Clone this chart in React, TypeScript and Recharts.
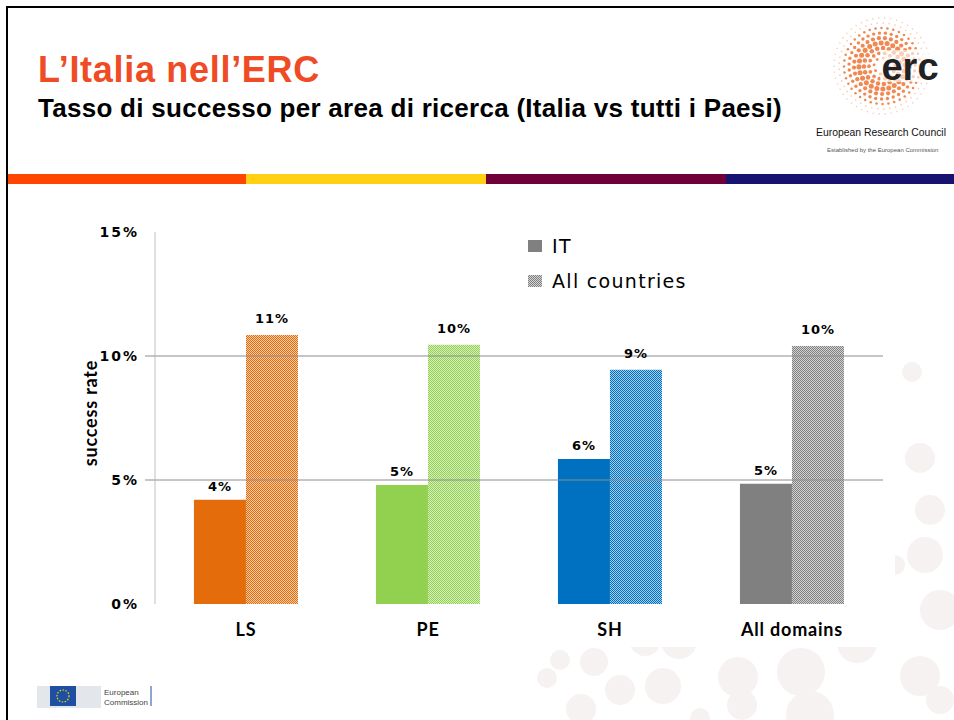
import { Bar, BarChart, Cell, LabelList, Legend, ReferenceLine, XAxis, YAxis } from 'recharts';

const categories = ['LS', 'PE', 'SH', 'All domains'];
const itRates = [4.2, 4.8, 5.85, 4.85];
const allRates = [10.85, 10.45, 9.45, 10.4];
const areaColors = ['#E46C0A', '#92D050', '#0070C0', '#808080'];
const yTicks = [0, 5, 10, 15];
const gridValues = [5, 10];
const separatorTicks = [1, 2, 3, 4];

const data = categories.map((name, i) => ({ name, it: itRates[i], all: allRates[i] }));

const bubbles = [
  [912, 372, 10], [920, 458, 15], [930, 510, 15], [895, 565, 10], [925, 555, 18], [940, 610, 20],
  [920, 676, 20], [940, 700, 14], [560, 660, 10], [594, 662, 14], [645, 640, 16], [679, 641, 18],
  [547, 678, 10], [620, 690, 15], [663, 686, 18], [738, 677, 20], [801, 672, 24], [857, 643, 20],
  [581, 709, 15], [742, 705, 15], [810, 715, 24], [700, 718, 10],
];

const pct = (v: number) => `${Math.round(v)}%`;

const YTick = ({ x, y, payload }: any) => (
  <g>
    {gridValues.includes(payload.value) && <line x1={x - 2} x2={x + 8} y1={y} y2={y} stroke="#8c8c8c" />}
    <text x={x - 8} y={y} dy={5} textAnchor="end" fontFamily="DejaVu Sans" fontWeight="bold" fontSize={14} letterSpacing={2} fill="#000">
      {pct(payload.value)}
    </text>
  </g>
);

const YLabel = ({ viewBox }: any) => {
  const cx = viewBox.x - 5;
  const cy = viewBox.y + viewBox.height / 2 - 5;
  return (
    <text x={cx} y={cy} transform={`rotate(-90 ${cx} ${cy})`} textAnchor="middle" dominantBaseline="central"
      fontFamily="Lato" fontWeight="bold" fontSize={18} letterSpacing={0.8} fill="#000">
      success rate
    </text>
  );
};

const LegendBox = () => (
  <div style={{ fontFamily: 'DejaVu Sans', fontSize: 19, letterSpacing: 1.3, color: '#000' }}>
    <div style={{ display: 'flex', alignItems: 'center', height: 22 }}>
      <svg width={16} height={14} style={{ marginRight: 8 }}><rect width={14} height={12} y={1} fill="#808080" /></svg>
      IT
    </div>
    <div style={{ display: 'flex', alignItems: 'center', height: 22, marginTop: 13 }}>
      <svg width={16} height={14} style={{ marginRight: 8 }}><rect width={14} height={12} y={1} fill="url(#hatch-3)" /></svg>
      All countries
    </div>
  </div>
);

const ErcLogo = () => {
  const dots: JSX.Element[] = [];
  for (let r = 8; r <= 48; r += 5) {
    const n = Math.round((2 * Math.PI * r) / 6);
    for (let k = 0; k < n; k++) {
      const a = (k / n) * 2 * Math.PI + r;
      const size = Math.max(0.8, 2.6 - Math.abs(r - 22) / 12);
      dots.push(
        <circle key={`${r}-${k}`} cx={882 + r * Math.cos(a)} cy={66 + r * Math.sin(a)} r={size}
          fill={r > 38 ? '#f6c3a4' : '#ee7b3e'} opacity={r > 38 ? 0.8 : 0.9} />
      );
    }
  }
  return (
    <g>
      {dots}
      <rect x={880} y={50} width={62} height={32} fill="#fff" opacity={0.6} />
      <text x={910} y={80} textAnchor="middle" fontFamily="Liberation Sans" fontWeight="bold" fontSize={38} fill="#222">erc</text>
      <text x={816} y={136} textLength={130} lengthAdjust="spacingAndGlyphs" fontFamily="Liberation Sans" fontSize={11} fill="#111">European Research Council</text>
      <text x={827} y={152} fontFamily="Liberation Sans" fontSize={6} fill="#555">Established by the European Commission</text>
    </g>
  );
};

export default function App() {
  return (
    <div style={{ position: 'fixed', left: 0, top: 0, width: 954, height: 720, background: '#fff', overflow: 'hidden' }}>
      <svg width={954} height={720} style={{ position: 'absolute', left: 0, top: 0 }}>
        {bubbles.map(([cx, cy, r], i) => <circle key={i} cx={cx} cy={cy} r={r} fill="#f6f2f1" />)}
        <rect x={9} y={186} width={886} height={461} fill="#fff" />
        <rect x={7} y={7} width={960} height={730} fill="none" stroke="#000" strokeWidth={2} />
        <rect x={8} y={174} width={238} height={10} fill="#FF4500" />
        <rect x={246} y={174} width={240} height={10} fill="#FFD014" />
        <rect x={486} y={174} width={240} height={10} fill="#720038" />
        <rect x={726} y={174} width={228} height={10} fill="#171370" />
        <ErcLogo />
        <g>
          <rect x={37} y={686} width={64} height={22} fill="#e3e6ea" />
          <rect x={50} y={686} width={26} height={20} fill="#1f4fa0" />
          <circle cx={63} cy={696} r={6} fill="none" stroke="#f2d21c" strokeWidth={1.2} strokeDasharray="1.5 1.5" />
          <text x={104} y={695} fontFamily="Liberation Sans" fontSize={8} fill="#444">European</text>
          <text x={104} y={705} fontFamily="Liberation Sans" fontSize={8} fill="#444">Commission</text>
          <line x1={151} x2={151} y1={686} y2={706} stroke="#1f4fa0" />
        </g>
      </svg>
      <div style={{ position: 'absolute', left: 38, top: 49, fontFamily: 'Liberation Sans', fontWeight: 'bold', fontSize: 36, color: '#EF4B24', lineHeight: '42px', letterSpacing: 0.7 }}>
        L’Italia nell’ERC
      </div>
      <div style={{ position: 'absolute', left: 38, top: 92, fontFamily: 'Liberation Sans', fontWeight: 'bold', fontSize: 26, color: '#000', lineHeight: '32px', letterSpacing: 0.28 }}>
        Tasso di successo per area di ricerca (Italia vs tutti i Paesi)
      </div>
      <div style={{ position: 'absolute', left: 0, top: 0 }}>
        <BarChart width={954} height={720} data={data} margin={{ top: 232, right: 71, bottom: 86, left: 95 }} barCategoryGap="21.4%" barGap={0}>
          <defs>
            {areaColors.map((c, i) => (
              <pattern key={c} id={`hatch-${i}`} width={2} height={2} patternUnits="userSpaceOnUse">
                <rect width={2} height={2} fill={c} opacity={0.35} />
                <rect width={1} height={1} fill={c} />
                <rect x={1} y={1} width={1} height={1} fill={c} />
              </pattern>
            ))}
          </defs>
          <XAxis xAxisId="sep" type="number" domain={[0, 4]} ticks={separatorTicks} height={0} tick={false} axisLine={false} tickLine={{ stroke: '#b0b0b0' }} tickSize={6} />
          <XAxis xAxisId="cat" dataKey="name" height={30} axisLine={false} tickLine={false} tickMargin={13}
            tick={{ fontFamily: 'Lato', fontWeight: 'bold', fontSize: 18, fill: '#000', letterSpacing: 0.8 } as any} />
          <YAxis domain={[0, 15]} ticks={yTicks} width={60} axisLine={{ stroke: '#c0c0c0' }} tickLine={false} tick={<YTick />}
            label={<YLabel />} />
          {gridValues.map((v) => (
            <ReferenceLine key={v} xAxisId="cat" y={v} stroke="#8c8c8c" />
          ))}
          <Legend content={<LegendBox />} layout="horizontal" verticalAlign="middle" align="center"
            wrapperStyle={{ position: 'absolute', left: 528, top: 235, width: 220 }} />
          <Bar xAxisId="cat" dataKey="it" name="IT" isAnimationActive={false}>
            {areaColors.map((c) => <Cell key={c} fill={c} />)}
            <LabelList dataKey="it" position="top" offset={9} formatter={pct as any}
              style={{ fontFamily: 'DejaVu Sans', fontWeight: 'bold', fontSize: 13, fill: '#000', letterSpacing: 1 }} />
          </Bar>
          <Bar xAxisId="cat" dataKey="all" name="All countries" isAnimationActive={false}>
            {areaColors.map((c, i) => <Cell key={c} fill={`url(#hatch-${i})`} />)}
            <LabelList dataKey="all" position="top" offset={12} formatter={pct as any}
              style={{ fontFamily: 'DejaVu Sans', fontWeight: 'bold', fontSize: 13, fill: '#000', letterSpacing: 1 }} />
          </Bar>
        </BarChart>
      </div>
    </div>
  );
}
